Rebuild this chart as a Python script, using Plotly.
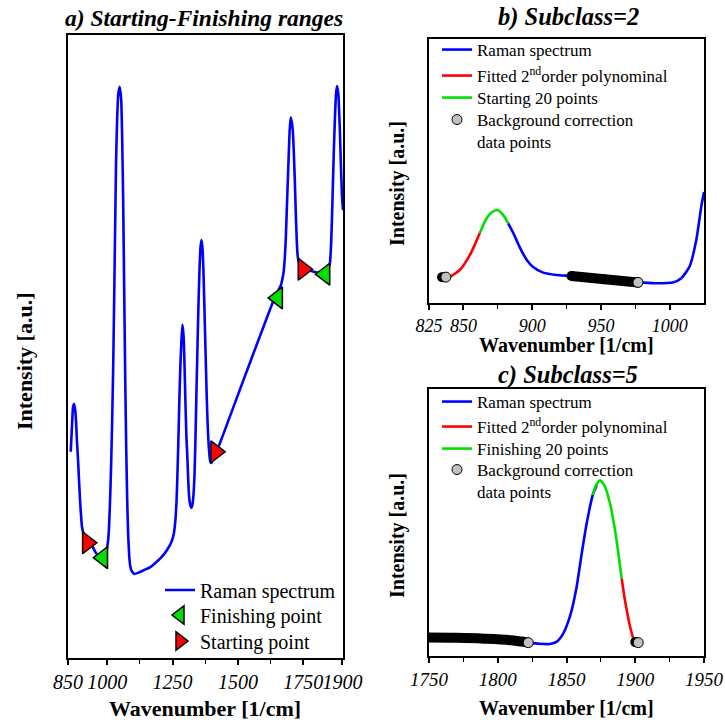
import plotly.graph_objects as go

# ---------------- data ----------------
# Panel a: full Raman spectrum
a_wn = [860.4, 865.4, 869, 873, 877, 880.7, 884, 888.4, 896, 903.7, 911, 919, 930, 942, 955, 965, 975, 984,
        991, 996, 1000, 1003.5, 1007, 1011, 1015, 1019, 1023, 1026.6, 1030, 1034, 1038, 1042, 1047.7, 1053.5,
        1057, 1061, 1065, 1069, 1073, 1076.5, 1080, 1084, 1088, 1092, 1103, 1120, 1140, 1165, 1185,
        1203, 1220, 1234, 1242, 1249, 1255, 1261, 1265, 1268, 1272, 1276, 1280, 1284, 1287.6, 1290.5, 1293,
        1296, 1299, 1303, 1307, 1311, 1314.5, 1318, 1322, 1326, 1330, 1334, 1337.5, 1341, 1345, 1349, 1353,
        1357, 1360.6, 1364, 1368, 1372, 1376, 1380, 1383.6, 1387, 1391, 1394, 1397, 1400, 1405, 1414, 1530,
        1640, 1664, 1670, 1675, 1679, 1683, 1687, 1691, 1695, 1698, 1702, 1706, 1710, 1714, 1717.6, 1721,
        1725, 1729, 1735, 1750, 1767, 1790, 1815, 1835, 1845, 1852, 1856, 1859.6, 1863, 1867, 1871, 1875,
        1879, 1882, 1884.5, 1887, 1890, 1894, 1898, 1902]
a_int = [33.1, 37.4, 40.2, 40.8, 40.0, 38.0, 35.0, 31.8, 25.4, 21.0, 19.8, 19.0, 18.5, 18.0, 17.0, 16.4, 16.1, 16.1,
         16.5, 17.0, 17.8, 18.9, 21.0, 25.4, 31.0, 38.2, 47.0, 57.5, 68.0, 79.9, 86.5, 90.4, 91.7, 89.6,
         84.0, 73.5, 59.0, 44.6, 33.0, 25.4, 20.0, 16.5, 14.8, 14.1, 13.5, 13.7, 14.1, 14.6, 15.3,
         16.0, 16.8, 17.7, 18.3, 19.0, 20.0, 22.2, 25.0, 28.6, 34.5, 41.4, 47.0, 51.0, 53.5, 52.5, 51.0,
         46.5, 41.4, 35.5, 31.8, 27.5, 25.4, 24.5, 24.1, 24.6, 26.2, 29.5, 35.0, 42.0, 49.4, 56.5, 62.3,
         66.0, 67.1, 66.0, 62.3, 56.0, 49.4, 43.0, 38.2, 35.0, 32.6, 31.6, 31.3, 31.4, 31.9, 32.6, 45.6,
         57.8, 59.8, 60.8, 62.0, 64.0, 67.1, 72.0, 76.7, 81.5, 84.7, 86.8, 86.0, 84.7, 81.0, 76.7, 72.0,
         67.1, 64.4, 63.3, 62.6, 62.3, 62.0, 61.8, 62.0, 62.5, 63.4, 66.0, 70.3, 75.5, 81.5, 86.5, 90.4,
         91.8, 91.2, 90.4, 88.0, 84.7, 79.1, 74.3, 71.9]
a_start_wn = [924, 1415, 1749]
a_start_int = [18.5, 33.1, 62.4]
a_finish_wn = [983, 1652, 1833]
a_finish_int = [16.1, 57.8, 61.6]

# Panel b: Subclass = 2
b_fit_wn = [837.3, 840.3, 843.5, 847.5, 851, 854.8, 858.5, 862]
b_fit_int = [9.8, 10.0, 11.0, 12.6, 15.0, 18.2, 22.3, 26.6]
b_start_wn = [862, 866.9, 870.5, 874.6, 879, 882.6]
b_start_int = [26.6, 32.1, 34.3, 35.2, 33.3, 30.2]
b_raman_wn = [882.6, 886.2, 891.1, 896, 900.7, 908, 917.7, 928.6, 952, 977, 990.4, 1002.4, 1008.5, 1014.5,
              1019.4, 1023, 1025]
b_raman_int = [30.2, 26.6, 21.0, 16.4, 13.6, 11.5, 10.6, 10.2, 9.0, 7.8, 7.5, 7.8, 9.4, 13.8, 23.9, 36.5, 42.0]
b_band_wn = [928.6, 952, 977]
b_band_int = [10.2, 9.0, 7.8]
b_pile_wn = [834.5, 836]
b_pile_int = [9.8, 9.8]
b_bg_wn = [837.3, 977]
b_bg_int = [9.8, 7.8]

# Panel c: Subclass = 5
c_raman_wn = [1822.2, 1830, 1838, 1843, 1847.7, 1851, 1853.8, 1857.4, 1861.1, 1864.7, 1869.1, 1872]
c_raman_int = [5.0, 4.6, 4.5, 5.4, 8.5, 12.5, 17.2, 26.0, 38.5, 49.7, 60.3, 64.0]
c_finish_wn = [1869.1, 1871.5, 1874.4, 1877.5, 1881.6, 1885.3, 1887.7, 1890.1]
c_finish_int = [60.3, 64.0, 65.7, 64.0, 57.2, 47.2, 38.5, 29.1]
c_fit_wn = [1890.1, 1892, 1893.8, 1896, 1898.6, 1900.5]
c_fit_int = [29.1, 22.5, 17.2, 11.5, 6.6, 5.2]
c_band_wn = [1750, 1770, 1790, 1810, 1822.2]
c_band_int = [6.9, 6.8, 6.5, 5.9, 5.0]
c_pile_wn = [1900, 1901]
c_pile_int = [5.2, 5.1]
c_bg_wn = [1822.2, 1902.2]
c_bg_int = [5.0, 5.0]

a_ticks = [850, 1000, 1250, 1500, 1750, 1900]
b_ticks = [825, 850, 900, 950, 1000]
c_ticks = [1750, 1800, 1850, 1900, 1950]

# ---------------- styling ----------------
W, H = 725, 724
SERIF = "Liberation Serif"
BLUE, RED, GREEN, GRAY = "#0000ff", "#ff0000", "#00e000", "#c0c0c0"
LW = 2.6


def fx(px):
    return px / W


def fy(py):
    return 1 - py / H


fig = go.Figure()

# ---- panel a ----
fig.add_trace(go.Scatter(x=a_wn, y=a_int, mode="lines", name="Raman spectrum",
                         line=dict(color=BLUE, width=LW, shape="spline", smoothing=0.4),
                         xaxis="x", yaxis="y", legend="legend"))
fig.add_trace(go.Scatter(x=a_finish_wn, y=a_finish_int, mode="markers", name="Finishing point",
                         marker=dict(symbol="triangle-left", size=19, color=GREEN,
                                     line=dict(color="black", width=1.5)),
                         xaxis="x", yaxis="y", legend="legend4"))
fig.add_trace(go.Scatter(x=a_start_wn, y=a_start_int, mode="markers", name="Starting point",
                         marker=dict(symbol="triangle-right", size=19, color=RED,
                                     line=dict(color="black", width=1.5)),
                         xaxis="x", yaxis="y", legend="legend5"))

# ---- panel b ----
fig.add_trace(go.Scatter(x=b_raman_wn, y=b_raman_int, mode="lines", name="Raman spectrum",
                         line=dict(color=BLUE, width=LW, shape="spline", smoothing=0.6),
                         xaxis="x2", yaxis="y2", legend="legend2"))
fig.add_trace(go.Scatter(x=b_fit_wn, y=b_fit_int, mode="lines", name="Fitted 2<sup>nd</sup>order polynominal",
                         line=dict(color=RED, width=LW, shape="spline", smoothing=0.6),
                         xaxis="x2", yaxis="y2", legend="legend6"))
fig.add_trace(go.Scatter(x=b_start_wn, y=b_start_int, mode="lines", name="Starting 20 points",
                         line=dict(color=GREEN, width=LW, shape="spline", smoothing=0.6),
                         xaxis="x2", yaxis="y2", legend="legend7"))
fig.add_trace(go.Scatter(x=b_band_wn, y=b_band_int, mode="lines+markers", showlegend=False,
                         line=dict(color="black", width=10),
                         marker=dict(size=10, color="black"),
                         xaxis="x2", yaxis="y2"))
fig.add_trace(go.Scatter(x=b_pile_wn, y=b_pile_int, mode="markers", showlegend=False,
                         marker=dict(size=10, color="black"),
                         xaxis="x2", yaxis="y2"))
fig.add_trace(go.Scatter(x=b_bg_wn, y=b_bg_int, mode="markers", name="Background correction<br>data points",
                         marker=dict(size=10, color=GRAY, line=dict(color="black", width=1)),
                         xaxis="x2", yaxis="y2", legend="legend8"))

# ---- panel c ----
fig.add_trace(go.Scatter(x=c_raman_wn, y=c_raman_int, mode="lines", name="Raman spectrum",
                         line=dict(color=BLUE, width=LW, shape="spline", smoothing=0.6),
                         xaxis="x3", yaxis="y3", legend="legend3"))
fig.add_trace(go.Scatter(x=c_fit_wn, y=c_fit_int, mode="lines", name="Fitted 2<sup>nd</sup>order polynominal",
                         line=dict(color=RED, width=LW, shape="spline", smoothing=0.6),
                         xaxis="x3", yaxis="y3", legend="legend9"))
fig.add_trace(go.Scatter(x=c_finish_wn, y=c_finish_int, mode="lines", name="Finishing 20 points",
                         line=dict(color=GREEN, width=LW, shape="spline", smoothing=0.6),
                         xaxis="x3", yaxis="y3", legend="legend10"))
fig.add_trace(go.Scatter(x=c_band_wn, y=c_band_int, mode="lines", showlegend=False,
                         line=dict(color="black", width=10, shape="spline"),
                         xaxis="x3", yaxis="y3"))
fig.add_trace(go.Scatter(x=c_pile_wn, y=c_pile_int, mode="markers", showlegend=False,
                         marker=dict(size=10, color="black"),
                         xaxis="x3", yaxis="y3"))
fig.add_trace(go.Scatter(x=c_bg_wn, y=c_bg_int, mode="markers", name="Background correction<br>data points",
                         marker=dict(size=10, color=GRAY, line=dict(color="black", width=1)),
                         xaxis="x3", yaxis="y3", legend="legend11"))


def xaxis(domain, rng, ticks, minor_vals, fsize, anchor):
    return dict(domain=domain, range=rng, anchor=anchor, tickvals=ticks,
                ticktext=[str(t) for t in ticks], tickangle=0,
                showline=True, linecolor="black", linewidth=2, mirror=True,
                ticks="outside", ticklen=5, tickwidth=1.5, tickcolor="black",
                minor=dict(tickvals=minor_vals, ticks="outside", ticklen=4, tickwidth=1.2,
                           tickcolor="black", showgrid=False),
                tickfont=dict(family=SERIF, size=fsize, color="black", style="italic"),
                showgrid=False, zeroline=False, automargin=False)


def yaxis(domain, anchor):
    return dict(domain=domain, range=[0, 100], anchor=anchor,
                showline=True, linecolor="black", linewidth=2, mirror=True,
                ticks="", showticklabels=False, showgrid=False, zeroline=False, automargin=False)


def leg(px, py, size, anchor="middle"):
    return dict(x=fx(px), y=fy(py), xanchor="left", yanchor=anchor,
                bgcolor="rgba(0,0,0,0)", valign="top", borderwidth=0,
                font=dict(family=SERIF, size=size, color="black"))


fig.update_layout(
    width=W, height=H,
    margin=dict(l=0, r=0, t=0, b=0),
    paper_bgcolor="white", plot_bgcolor="white",
    xaxis=xaxis([fx(68), fx(343)], [850, 1902], a_ticks, [1125, 1375, 1625], 20, "y"),
    yaxis=yaxis([fy(658), fy(35)], "x"),
    xaxis2=xaxis([fx(429), fx(704)], [825, 1025], b_ticks, [875, 925, 975], 18, "y2"),
    yaxis2=yaxis([fy(303), fy(39)], "x2"),
    xaxis3=xaxis([fx(429), fx(704)], [1750, 1950], c_ticks, [1775, 1825, 1875, 1925], 19, "y3"),
    yaxis3=yaxis([fy(656), fy(389)], "x3"),
    # panel a legend entries
    legend=leg(160, 590, 20),
    legend4=leg(160, 615, 20),
    legend5=leg(160, 641, 20),
    # panel b legend entries
    legend2=leg(437, 50, 17),
    legend6=leg(437, 76, 17),
    legend7=leg(437, 98, 17),
    legend8=leg(437, 102, 17, "top"),
    # panel c legend entries
    legend3=leg(437, 402, 17),
    legend9=leg(437, 427, 17),
    legend10=leg(437, 449, 17),
    legend11=leg(437, 452, 17, "top"),
    showlegend=True,
)

ann = []
title_a = dict(family=SERIF, size=23.5, color="black", weight="bold", style="italic")
title_bc = dict(family=SERIF, size=24.5, color="black", weight="bold", style="italic")
ann.append(dict(text="a) Starting-Finishing ranges", x=fx(204), y=fy(18), xref="paper", yref="paper",
                showarrow=False, xanchor="center", yanchor="middle", font=title_a))
ann.append(dict(text="b) Subclass=2", x=fx(568), y=fy(17), xref="paper", yref="paper",
                showarrow=False, xanchor="center", yanchor="middle", font=title_bc))
ann.append(dict(text="c) Subclass=5", x=fx(568), y=fy(375), xref="paper", yref="paper",
                showarrow=False, xanchor="center", yanchor="middle", font=title_bc))

axis_font_a = dict(family=SERIF, size=22, color="black", weight="bold")
axis_font_bc = dict(family=SERIF, size=20, color="black", weight="bold")
ann.append(dict(text="Wavenumber [1/cm]", x=fx(205), y=fy(708), xref="paper", yref="paper",
                showarrow=False, xanchor="center", yanchor="middle", font=axis_font_a))
ann.append(dict(text="Intensity [a.u.]", x=fx(25), y=fy(361), xref="paper", yref="paper",
                showarrow=False, xanchor="center", yanchor="middle", textangle=-90, font=axis_font_a))
ann.append(dict(text="Wavenumber [1/cm]", x=fx(566), y=fy(345), xref="paper", yref="paper",
                showarrow=False, xanchor="center", yanchor="middle", font=axis_font_bc))
ann.append(dict(text="Intensity [a.u.]", x=fx(397), y=fy(184), xref="paper", yref="paper",
                showarrow=False, xanchor="center", yanchor="middle", textangle=-90, font=axis_font_bc))
ann.append(dict(text="Wavenumber [1/cm]", x=fx(566), y=fy(708), xref="paper", yref="paper",
                showarrow=False, xanchor="center", yanchor="middle", font=axis_font_bc))
ann.append(dict(text="Intensity [a.u.]", x=fx(397), y=fy(536), xref="paper", yref="paper",
                showarrow=False, xanchor="center", yanchor="middle", textangle=-90, font=axis_font_bc))
fig.update_layout(annotations=ann)

fig.write_html("out.html")
